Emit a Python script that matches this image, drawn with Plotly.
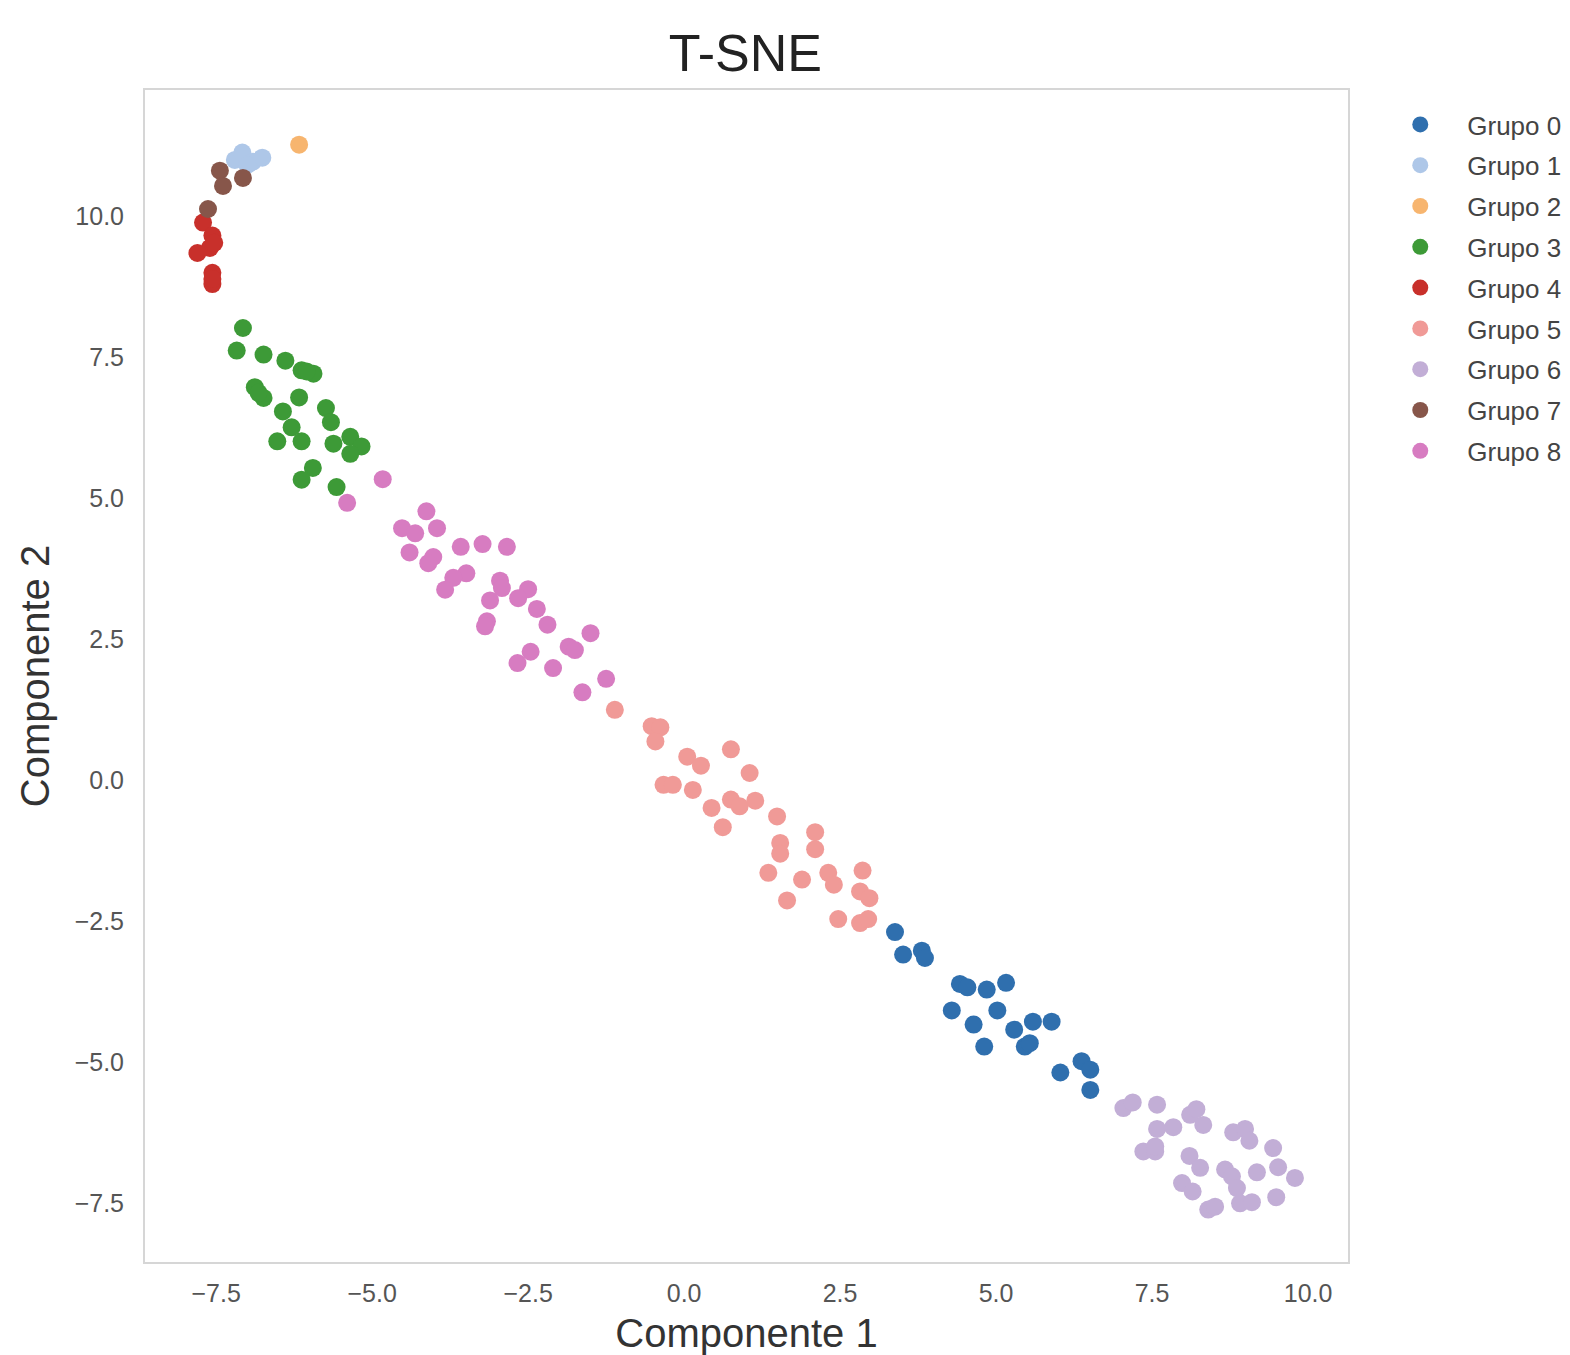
import plotly.graph_objects as go

# ---- data ----
group_names = ["Grupo 0", "Grupo 1", "Grupo 2", "Grupo 3", "Grupo 4",
               "Grupo 5", "Grupo 6", "Grupo 7", "Grupo 8"]
group_colors = ["#2f6fae", "#aec7e8", "#f7b56f", "#3d9a37", "#c8302b",
                "#f09a97", "#c2aed6", "#87564a", "#d77cc1"]

g0_x = [3.38, 3.51, 3.81, 3.86, 4.42, 4.54, 4.85, 5.16, 4.29, 5.02, 4.64,
        4.81, 5.29, 5.59, 5.89, 5.46, 5.54, 6.37, 6.51, 6.03, 6.51]
g0_y = [-2.70, -3.10, -3.03, -3.16, -3.62, -3.68, -3.72, -3.60, -4.09, -4.09,
        -4.34, -4.73, -4.43, -4.29, -4.29, -4.73, -4.67, -4.99, -5.14, -5.19, -5.50]

g1_x = [-7.20, -7.08, -6.91, -6.76, -7.00]
g1_y = [10.99, 11.12, 10.96, 11.03, 10.90]

g2_x = [-6.17]
g2_y = [11.26]

g3_x = [-7.07, -7.17, -6.74, -6.39, -6.13, -5.94, -6.05, -6.88, -6.74, -6.82,
        -6.17, -5.74, -5.66, -6.43, -6.29, -6.52, -6.13, -5.62, -5.35, -5.17,
        -5.35, -5.95, -6.13, -5.57]
g3_y = [8.01, 7.61, 7.54, 7.43, 7.26, 7.20, 7.24, 6.96, 6.77, 6.86,
        6.78, 6.59, 6.34, 6.53, 6.25, 6.00, 6.00, 5.96, 6.08, 5.91,
        5.78, 5.53, 5.32, 5.19]

g4_x = [-7.71, -7.56, -7.60, -7.80, -7.53, -7.56, -7.56, -7.56]
g4_y = [9.88, 9.65, 9.43, 9.34, 9.52, 8.99, 8.79, 8.88]

g5_x = [-1.11, -0.52, -0.38, -0.46, 0.05, 0.27, 0.75, 1.05, -0.33, -0.18,
        0.14, 0.44, 0.62, 0.75, 0.89, 1.14, 1.49, 1.54, 1.54, 2.10,
        2.10, 1.35, 1.89, 2.31, 2.40, 2.86, 2.82, 2.97, 1.65, 2.47,
        2.82, 2.95]
g5_y = [1.24, 0.95, 0.93, 0.68, 0.41, 0.25, 0.54, 0.12, -0.09, -0.09,
        -0.18, -0.50, -0.84, -0.35, -0.47, -0.37, -0.65, -1.12, -1.31, -0.93,
        -1.23, -1.65, -1.77, -1.65, -1.86, -1.61, -1.98, -2.10, -2.14, -2.47,
        -2.54, -2.47]

g6_x = [7.04, 7.19, 7.58, 7.58, 7.84, 8.11, 8.21, 8.32, 7.36, 7.55,
        7.55, 8.10, 8.27, 8.80, 8.99, 9.06, 9.44, 8.67, 8.78, 9.18,
        9.52, 9.79, 7.98, 8.15, 8.86, 8.91, 9.10, 8.40, 8.51, 9.49]
g6_y = [-5.82, -5.72, -5.76, -6.19, -6.16, -5.94, -5.84, -6.12, -6.59, -6.59,
        -6.50, -6.67, -6.88, -6.25, -6.19, -6.40, -6.53, -6.91, -7.03, -6.96,
        -6.87, -7.06, -7.15, -7.30, -7.24, -7.51, -7.49, -7.62, -7.57, -7.40]

g7_x = [-7.44, -7.39, -7.07, -7.63]
g7_y = [10.80, 10.53, 10.67, 10.12]

g8_x = [-4.83, -5.40, -4.13, -4.52, -4.31, -3.96, -4.40, -4.02, -4.10, -3.58,
        -3.23, -2.84, -3.49, -3.70, -3.83, -2.95, -2.92, -3.11, -3.16, -3.19,
        -2.50, -2.66, -2.36, -2.19, -1.50, -1.85, -1.75, -2.46, -2.67, -2.10,
        -1.25, -1.63]
g8_y = [5.33, 4.91, 4.76, 4.46, 4.37, 4.46, 4.03, 3.95, 3.84, 4.13,
        4.18, 4.13, 3.66, 3.58, 3.37, 3.53, 3.40, 3.18, 2.81, 2.72,
        3.38, 3.22, 3.03, 2.75, 2.60, 2.36, 2.30, 2.27, 2.07, 1.98,
        1.79, 1.55]

xs = [g0_x, g1_x, g2_x, g3_x, g4_x, g5_x, g6_x, g7_x, g8_x]
ys = [g0_y, g1_y, g2_y, g3_y, g4_y, g5_y, g6_y, g7_y, g8_y]

x_ticks = [-7.5, -5.0, -2.5, 0.0, 2.5, 5.0, 7.5, 10.0]
y_ticks = [-7.5, -5.0, -2.5, 0.0, 2.5, 5.0, 7.5, 10.0]

FONT = "Liberation Sans, Arial, sans-serif"

fig = go.Figure()
for name, color, x, y in zip(group_names, group_colors, xs, ys):
    fig.add_trace(go.Scatter(
        x=x, y=y, mode="markers", name=name, legendgroup=name,
        marker=dict(color=color, size=18, line=dict(width=0)),
    ))

axis_common = dict(
    showgrid=False, zeroline=False, showline=True, mirror=True,
    linecolor="#d6d6d6", linewidth=2, ticks="", automargin=False,
    tickfont=dict(family=FONT, size=25, color="#555555"),
    tickformat=".1f",
)

fig.update_layout(
    width=1570, height=1355,
    paper_bgcolor="white", plot_bgcolor="white",
    margin=dict(l=145, r=222, t=90, b=93, autoexpand=False),
    title=dict(text="T-SNE", x=0.4748, xanchor="center", y=0.9608, yanchor="middle",
               font=dict(family=FONT, size=52, color="#222222")),
    xaxis=dict(range=[-8.64, 10.64], tickvals=x_ticks, ticklabelstandoff=8,
               title=dict(text="Componente 1", standoff=19,
                          font=dict(family=FONT, size=40, color="#333333")),
               **axis_common),
    yaxis=dict(range=[-8.55, 12.23], tickvals=y_ticks, ticklabelstandoff=14,
               title=dict(text="Componente 2", standoff=13,
                          font=dict(family=FONT, size=40, color="#333333")),
               **axis_common),
    legend=dict(x=1.021, xanchor="left", y=0.9906, yanchor="top",
                font=dict(family=FONT, size=26, color="#444444"),
                tracegroupgap=4, itemwidth=84, bgcolor="rgba(0,0,0,0)"),
)

fig.write_html("out.html",
               config={"displayModeBar": False},
               post_script="document.body.style.margin='0px';")
